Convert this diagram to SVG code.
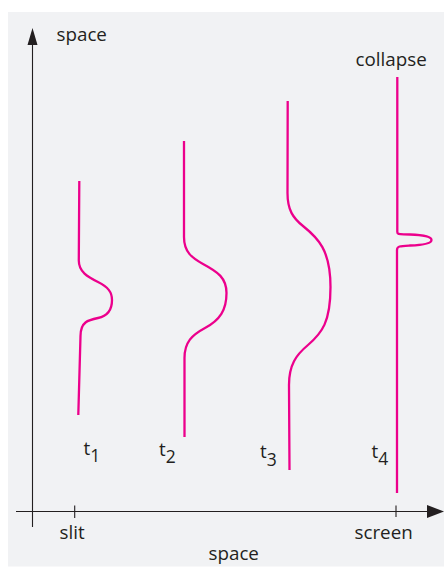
<svg xmlns="http://www.w3.org/2000/svg" width="444" height="567" viewBox="0 0 444 567">
<style>
.lbl{font-family:"Open Sans","Liberation Sans",sans-serif;font-size:18.8px;fill:#231f20}
.sub{font-size:17.5px}
.axis{stroke:#231f20;stroke-width:1.1;fill:none}
.wave{stroke:#ec008c;stroke-width:2.3;fill:none;stroke-linecap:butt;stroke-linejoin:round}
</style>
<rect x="8" y="12" width="436" height="554.5" fill="#f1f2f4"/>
<g id="axes">
<line class="axis" x1="32.5" y1="44" x2="32.5" y2="527"/>
<polygon points="32.5,28 37.5,45 27.5,45" fill="#231f20"/>
<line class="axis" x1="16" y1="511.5" x2="428" y2="511.5"/>
<polygon points="444,511.5 427,505 427,518" fill="#231f20"/>
<line class="axis" x1="74.7" y1="505.5" x2="74.7" y2="518"/>
<line class="axis" x1="396" y1="505.5" x2="396" y2="517"/>
<text class="lbl" x="56.5" y="40.5">space</text>
<text class="lbl" x="59.5" y="539">slit</text>
<text class="lbl" x="354.5" y="539">screen</text>
<text class="lbl" x="208.5" y="560">space</text>
</g>
<g id="t1">
<path class="wave" d="M79.3,181 L78.8,260 C78.5,272 88,277 98,282 C108,287 112,292 112,300 C112,310 108,316 98,318 C88,320 80.5,322 80.5,336 L78.3,415"/>
<text class="lbl" x="83.5" y="454.5">t<tspan class="sub" dy="7">1</tspan></text>
</g>
<g id="t2">
<path class="wave" d="M184,141 L184,237 C184,252 192,258 203,264 C218,272 226.5,278 226.5,293 C226.5,310 220,320 205,328 C192,335 184.5,342 184.5,358 L184.5,437"/>
<text class="lbl" x="159" y="455.5">t<tspan class="sub" dy="7">2</tspan></text>
</g>
<g id="t3">
<path class="wave" d="M287.7,101 L287.5,193 C287.5,210 293,218 303,226 C318,238 330.5,250 330.5,287 C330.5,322 322,333 308,345 C296,355 289,365 289,385 L289.5,470"/>
<text class="lbl" x="260" y="458">t<tspan class="sub" dy="7.5">3</tspan></text>
</g>
<g id="t4">
<path class="wave" d="M397.3,77 L397.3,232 C397.3,235 400,234 410,234.5 C425,235 431.5,237 431.5,240 C431.5,243 425,245 410,245.5 C400,246 397,246 397,250 L397,493"/>
<text class="lbl" x="371.5" y="457.5">t<tspan class="sub" dy="7.5">4</tspan></text>
<text class="lbl" x="355.5" y="66">collapse</text>
</g>
</svg>
